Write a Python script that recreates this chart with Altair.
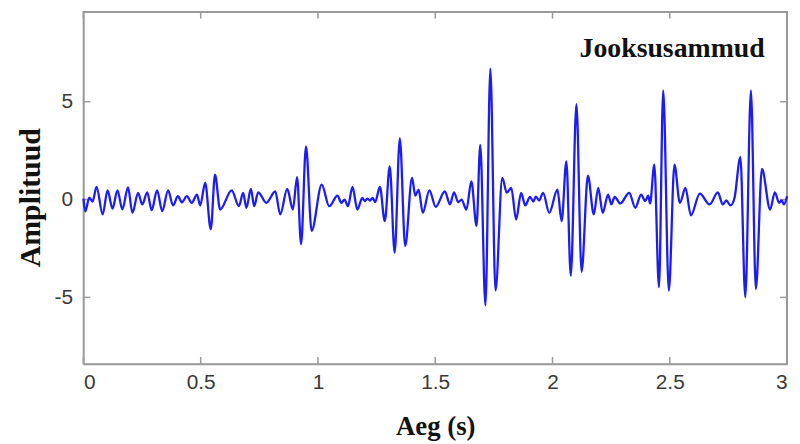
import altair as alt
import pandas as pd

# Signal (local extrema, time in s)
t = [0.000, 0.008, 0.025, 0.039, 0.056, 0.082, 0.103, 0.124, 0.145, 0.166,
     0.190, 0.209, 0.233, 0.251, 0.272, 0.291, 0.314, 0.336, 0.361, 0.382,
     0.403, 0.420, 0.441, 0.462, 0.484, 0.498, 0.519, 0.543, 0.561, 0.583,
     0.632, 0.663, 0.681, 0.695, 0.714, 0.728, 0.745, 0.780, 0.818, 0.839,
     0.869, 0.893, 0.911, 0.928, 0.949, 0.973, 1.016, 1.048, 1.083, 1.100,
     1.113, 1.128, 1.147, 1.168, 1.189, 1.200, 1.210, 1.222, 1.233, 1.244,
     1.264, 1.285, 1.306, 1.327, 1.349, 1.372, 1.401, 1.415, 1.429, 1.447,
     1.475, 1.502, 1.541, 1.563, 1.580, 1.598, 1.612, 1.633, 1.654, 1.676,
     1.692, 1.714, 1.735, 1.757, 1.786, 1.805, 1.824, 1.845, 1.866, 1.884,
     1.904, 1.918, 1.929, 1.943, 1.960, 1.986, 2.021, 2.039, 2.059, 2.078,
     2.102, 2.124, 2.151, 2.176, 2.195, 2.214, 2.237, 2.251, 2.265, 2.289,
     2.327, 2.353, 2.378, 2.395, 2.408, 2.416, 2.434, 2.454, 2.472, 2.496,
     2.520, 2.543, 2.567, 2.590, 2.628, 2.670, 2.705, 2.726, 2.741, 2.759,
     2.776, 2.801, 2.822, 2.846, 2.867, 2.893, 2.928, 2.948, 2.966, 2.977,
     2.987, 3.000]
amp = [0.05, -0.60, 0.10, -0.10, 0.64, -0.76, 0.47, -0.47, 0.47, -0.50,
       0.62, -0.68, 0.34, -0.25, 0.37, -0.54, 0.47, -0.59, 0.47, -0.30,
       0.17, -0.14, 0.17, -0.17, 0.25, -0.30, 0.85, -1.52, 1.27, -0.51,
       0.47, -0.34, 0.34, -0.42, 0.54, -0.34, 0.37, -0.17, 0.42, -0.76,
       0.54, -0.51, 1.15, -2.28, 2.71, -1.60, 0.76, -0.34, 0.20, -0.17,
       0.00, -0.34, 0.64, -0.51, 0.08, -0.08, 0.05, -0.05, 0.08, -0.13,
       0.64, -1.10, 1.69, -2.71, 3.13, -2.37, 1.10, 0.20, 0.50, -0.68,
       0.47, -0.37, 0.42, -0.25, 0.37, -0.14, 0.00, -0.51, 0.93, -1.35,
       2.79, -5.41, 6.69, -4.65, 1.10, 0.35, 0.59, -1.02, 0.34, -0.30,
       0.14, -0.10, 0.15, -0.05, 0.34, -0.68, 0.51, -1.10, 1.95, -3.89,
       4.87, -3.69, 1.22, -0.76, 0.59, -0.68, 0.25, -0.25, 0.14, -0.20,
       0.34, -0.42, 0.25, -0.08, 0.20, -0.20, 1.78, -4.48, 5.58, -4.65,
       1.78, -0.17, 0.59, -0.81, 0.30, -0.25, 0.37, -0.25, -0.05, -0.30,
       0.08, 2.17, -4.99, 5.58, -4.57, 1.56, -0.51, 0.37, -0.17, -0.05,
       -0.25, 0.17]

x_ticks = [0, 0.5, 1, 1.5, 2, 2.5, 3]
y_ticks = [-5, 0, 5]
x_domain = [0, 3]
y_domain = [-8.4, 9.6]
label_text = ["Jooksusammud"]
label_x = [2.51]
label_y = [7.7]

W, H = 709, 355
FRAME = "#9a9a9a"

sig = pd.DataFrame({"t": t, "a": amp})
xt = pd.DataFrame({"t": x_ticks})
yt = pd.DataFrame({"a": y_ticks})
lab = pd.DataFrame({"txt": label_text, "t": label_x, "a": label_y})

xs = alt.Scale(domain=x_domain, nice=False, zero=False)
ys = alt.Scale(domain=y_domain, nice=False, zero=False)

LABEL_EXPR = "datum.value < 0 ? '-' + format(-datum.value, '~g') : format(datum.value, '~g')"

line = alt.Chart(sig).mark_line(color="#1c1cf5", strokeWidth=2.3, interpolate="monotone").encode(
    x=alt.X("t:Q", scale=xs,
            axis=alt.Axis(values=x_ticks, title="Aeg (s)", domain=True, domainColor=FRAME,
                          domainWidth=1.5, ticks=False, grid=False,
                          labelExpr=LABEL_EXPR,
                          labelFont="Liberation Sans", labelFontSize=21, labelColor="#3a3a3a",
                          labelPadding=8,
                          titleFont="Liberation Serif", titleFontSize=27, titleFontWeight="bold",
                          titleColor="#111111", titleY=63, titleBaseline="middle")),
    y=alt.Y("a:Q", scale=ys,
            axis=alt.Axis(values=y_ticks, title="Amplituud", domain=True, domainColor=FRAME,
                          domainWidth=1.5, ticks=False, grid=False,
                          labelExpr=LABEL_EXPR,
                          labelFont="Liberation Sans", labelFontSize=21, labelColor="#3a3a3a",
                          labelPadding=11,
                          titleFont="Liberation Serif", titleFontSize=30, titleFontWeight="bold",
                          titleColor="#111111", titleX=-53, titleY=187, titleAngle=-90,
                          titleAlign="center", titleBaseline="middle")),
)

# frame edges (top and right) and inward ticks
edge_t = alt.Chart(xt).mark_rule(color=FRAME, strokeWidth=1.5).encode(
    x=alt.value(0), x2=alt.value(W), y=alt.value(0))
edge_r = alt.Chart(xt).mark_rule(color=FRAME, strokeWidth=1.5).encode(
    x=alt.value(W), y=alt.value(0), y2=alt.value(H))
tick_b = alt.Chart(xt).mark_rule(color=FRAME, strokeWidth=1.5).encode(
    x=alt.X("t:Q", scale=xs), y=alt.value(H), y2=alt.value(H - 7))
tick_t = alt.Chart(xt).mark_rule(color=FRAME, strokeWidth=1.5).encode(
    x=alt.X("t:Q", scale=xs), y=alt.value(0), y2=alt.value(7))
tick_l = alt.Chart(yt).mark_rule(color=FRAME, strokeWidth=1.5).encode(
    y=alt.Y("a:Q", scale=ys), x=alt.value(0), x2=alt.value(7))
tick_r = alt.Chart(yt).mark_rule(color=FRAME, strokeWidth=1.5).encode(
    y=alt.Y("a:Q", scale=ys), x=alt.value(W), x2=alt.value(W - 7))

text = alt.Chart(lab).mark_text(font="Liberation Serif", fontSize=28, fontWeight="bold",
                                color="#111111", align="center", baseline="middle").encode(
    x=alt.X("t:Q", scale=xs), y=alt.Y("a:Q", scale=ys), text="txt:N")

chart = alt.layer(edge_t, edge_r, tick_b, tick_t, tick_l, tick_r, line, text).properties(
    width=W, height=H,
    padding={"left": 76, "top": 2, "right": 5, "bottom": 78},
    autosize=alt.AutoSizeParams(type="none"),
    background="white",
).configure_view(stroke=FRAME, strokeWidth=1.5)

chart.save("out.html", embed_options={"renderer": "svg", "actions": False})
